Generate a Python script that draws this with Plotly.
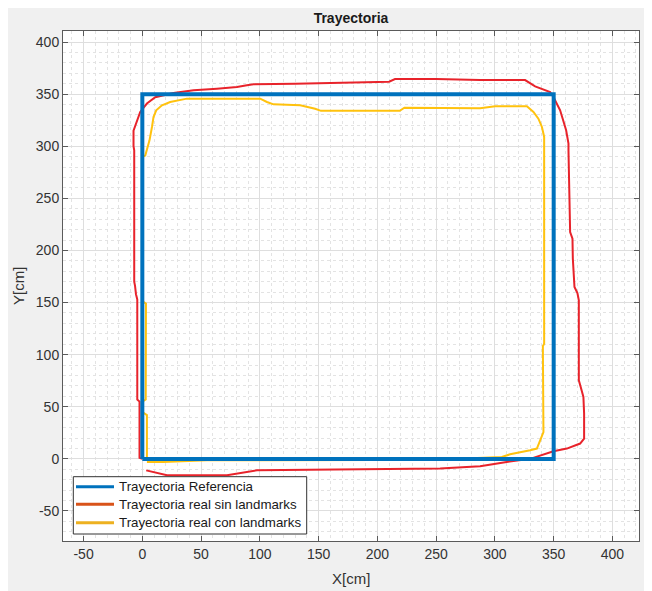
import plotly.graph_objects as go

# Reference trajectory (square)
ref_x = [0, 0, 350, 350, 0]
ref_y = [0, 350, 350, 0, 0]

# Real trajectory without landmarks
sin_x = [0, -2.4, -2.4, -4.3, -4.3, -5.4, -6.2, -6.9, -6.9, -7.5, -7.5, -4.6, -1.8, 3.9, 11, 26.5,
         43.6, 63.5, 80.5, 89, 94.6, 130, 175, 210, 215, 250, 287.4, 325.7, 334.2, 347, 349.8,
         355.5, 360.6, 362.6, 362.6, 363.4, 364, 366, 366.3, 367.7, 370.2, 371.4, 371.4, 373,
         375.3, 375.9, 375.9, 372.5, 361.2, 349.8, 330, 310, 287.4, 253.4, 200, 150, 97.5, 72,
         21, 3.3]
sin_y = [0, 1, 55, 57, 153, 158, 166, 170, 296, 300, 315, 325, 333, 341, 347, 351.1,
         353.7, 355.3, 356.8, 358.5, 359.4, 360, 361, 362, 364.5, 364.5, 363.5, 363.5, 357.5, 352, 347.2,
         334.5, 315.3, 302.5, 296, 241.7, 217.7, 211.4, 192.2, 165, 159.2, 152.2, 75.4, 69,
         59.4, 43.5, 19.5, 14.7, 9.9, 7.3, 0, -3, -7.1, -9.3, -10, -10.5, -11, -15.7,
         -15.7, -11]

# Real trajectory with landmarks
con_x = [3.9, 3.9, 0, 0, 2.9, 2.9, 3.1, 0.5, 0.5, 2.5, 3.9, 6.1, 8.2, 9.5, 11.8, 16.7, 23.7,
         37.9, 100.3, 106, 111.6, 134.3, 147, 152, 219, 223, 287.4, 300.2, 327.2, 332.8, 337,
         340, 341.9, 341.9, 340.8, 340.8, 341.3, 338.5, 335.7, 330, 321.5, 312.9, 305.9, 253.4,
         200, 55, 18, 3.9]
con_y = [-1, 42, 45, 55, 57, 75, 149, 151, 290, 291, 296, 305.7, 318.5, 328, 334.5, 339.3, 342.5,
         345.7, 345.7, 342.5, 340.2, 339.3, 336, 334, 334, 337, 336.5, 338.3, 338.3, 332.9, 326.5,
         318.5, 308.9, 110.6, 108, 75.4, 25.8, 17.8, 9.9, 8.3, 6.6, 4.4, 1.8, -0.5,
         -1, -1.3, -3, -3]

tick_vals = [-50, 0, 50, 100, 150, 200, 250, 300, 350, 400]
tick_text = ["-50", "0", "50", "100", "150", "200", "250", "300", "350", "400"]

names = ["Trayectoria Referencia", "Trayectoria real sin landmarks", "Trayectoria real con landmarks"]
legend_colors = ["#0072BD", "#D95319", "#EDB120"]

FONT = "Liberation Sans, Arial"

fig = go.Figure()
fig.add_trace(go.Scatter(x=sin_x, y=sin_y, mode="lines", name=names[1],
                         line=dict(color="#E8232B", width=2), showlegend=False))
fig.add_trace(go.Scatter(x=con_x, y=con_y, mode="lines", name=names[2],
                         line=dict(color="#FFC20E", width=2), showlegend=False))
fig.add_trace(go.Scatter(x=ref_x, y=ref_y, mode="lines", name=names[0],
                         line=dict(color="#0072BD", width=4), showlegend=False))

axis_common = dict(
    tickmode="array", tickvals=tick_vals, ticktext=tick_text,
    showline=True, linecolor="#5a5a5a", linewidth=1, mirror="ticks",
    ticks="inside", ticklen=5, tickcolor="#5a5a5a",
    showgrid=True, gridcolor="#dedede", gridwidth=1, zeroline=False,
    automargin=False,
    tickfont=dict(family=FONT, size=14, color="#333333"),
    minor=dict(dtick=10, showgrid=True, gridcolor="#e3e3e3", griddash="dot", gridwidth=1),
)

# Plot area in figure coords: left 55, right 631, top 23, bottom 533
PL, PR, PT, PB = 55, 631, 23, 533


def px(fx):
    return (fx - PL) / (PR - PL)


def py(fy):
    return (PB - fy) / (PB - PT)


# Legend box (drawn as shapes + text)
shapes = [dict(type="rect", xref="paper", yref="paper",
               x0=px(65.3), x1=px(298.7), y0=py(526), y1=py(468.7),
               fillcolor="white", line=dict(color="#333333", width=1), layer="above")]
annotations = []
row_y = [478.7, 496.3, 514.7]
for n, c, ry in zip(names, legend_colors, row_y):
    shapes.append(dict(type="line", xref="paper", yref="paper",
                       x0=px(68), x1=px(106), y0=py(ry), y1=py(ry),
                       line=dict(color=c, width=3), layer="above"))
    annotations.append(dict(text=n, xref="paper", yref="paper", x=px(109), y=py(ry),
                            xanchor="left", yanchor="middle", showarrow=False,
                            font=dict(family=FONT, size=13.3, color="#1a1a1a")))

annotations += [
    dict(text="X[cm]", xref="paper", yref="paper", x=0.5, y=py(570),
         xanchor="center", yanchor="middle", showarrow=False,
         font=dict(family=FONT, size=15, color="#333333")),
    dict(text="Y[cm]", xref="paper", yref="paper", x=px(10), y=0.5,
         xanchor="center", yanchor="middle", showarrow=False, textangle=-90,
         font=dict(family=FONT, size=15, color="#333333")),
]

fig.update_layout(
    width=652, height=591,
    margin=dict(l=PL, r=652 - PR, t=PT, b=591 - PB),
    paper_bgcolor="#f0f0f0", plot_bgcolor="white",
    title=dict(text="<b>Trayectoria</b>", x=343 / 652, xanchor="center", y=1 - 10 / 591,
               yanchor="middle", yref="container",
               font=dict(family=FONT, size=14, color="#1a1a1a")),
    xaxis=dict(range=[-67.5, 422.6], **axis_common),
    yaxis=dict(range=[-78.8, 410.6], **axis_common),
    showlegend=False,
    shapes=shapes,
    annotations=annotations,
)

fig.write_html("out.html")
